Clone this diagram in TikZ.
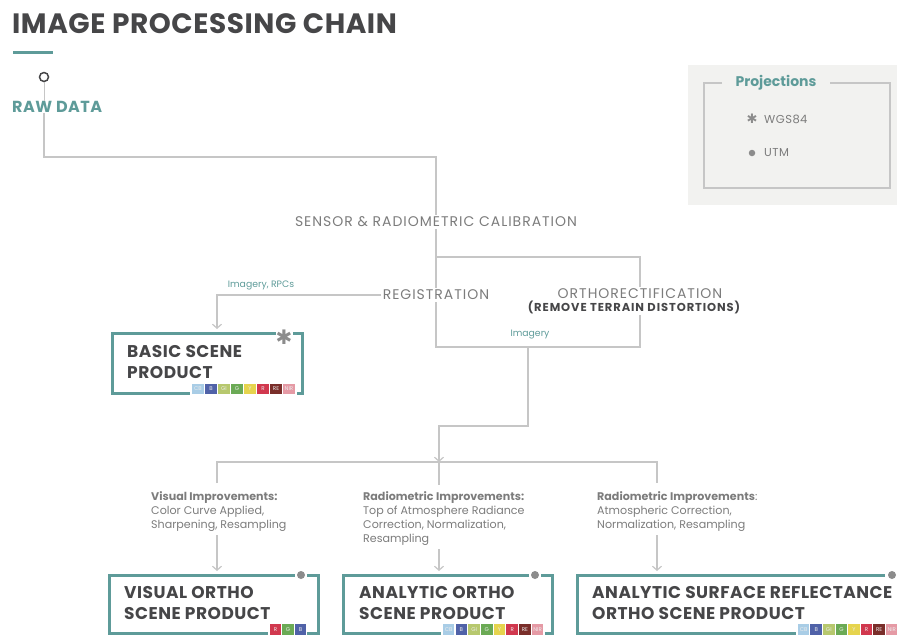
\documentclass[tikz,border=0pt]{standalone}
\usepackage{fontspec}
\setmainfont{Poppins}
\newfontfamily\symfont{DejaVu Sans}
\usetikzlibrary{arrows.meta}
\definecolor{tealc}{HTML}{5E9B99}
\definecolor{darkt}{HTML}{464648}
\definecolor{labelg}{HTML}{7C7C7C}
\definecolor{lineg}{HTML}{C6C6C6}
\definecolor{panelbg}{HTML}{F2F2F0}
\definecolor{dotg}{HTML}{8C8C8C}
\definecolor{cCB}{HTML}{A9CDE6}
\definecolor{cB}{HTML}{5062A8}
\definecolor{cGI}{HTML}{B7C86E}
\definecolor{cG}{HTML}{6BAA55}
\definecolor{cY}{HTML}{E6D44E}
\definecolor{cR}{HTML}{D1384E}
\definecolor{cRE}{HTML}{7A2E2A}
\definecolor{cNIR}{HTML}{E59AA5}
\newcommand{\fs}[1]{\fontsize{#1}{#1}\selectfont}
\newcommand{\ls}[1]{\addfontfeature{LetterSpace=#1}}
\begin{document}
\begin{tikzpicture}[x=1pt,y=-1pt,
  conn/.style={draw=lineg, line width=1.8pt},
  arr/.style={conn, -{Straight Barb[length=4pt,width=9pt,line width=1.2pt]}},
  boxline/.style={draw=tealc, line width=3pt},
  biglbl/.style={font=\fs{14}\ls{7}, text=labelg, inner sep=2pt},
  boxtxt/.style={font=\fontsize{17}{21}\selectfont\bfseries\ls{3}, text=darkt, align=left, inner sep=0pt, anchor=north west},
  smalltxt/.style={font=\fontsize{11.1}{14}\selectfont, text=labelg, align=left, inner sep=0pt, anchor=north west},
  tlbl/.style={font=\fs{9.3}, text=tealc, inner sep=1pt},
  chip/.style={minimum width=11.5pt, minimum height=10.5pt, inner sep=0pt, font=\fs{5.5}, text=white!85!gray},
  gdot/.style={circle, fill=dotg, inner sep=0pt, minimum size=8pt}
]
\useasboundingbox (0,0) rectangle (897,635);
% title
\node[anchor=west, font=\fs{28}\bfseries\ls{2}, text=darkt, inner sep=0pt] (title) at (12,24) {IMAGE PROCESSING CHAIN};
\draw[tealc, line width=3pt] (13,52) -- (53,52);
% start
\node[circle, draw=darkt, line width=1.5pt, minimum size=9pt, inner sep=0pt] (start) at (44,77) {};
\node[anchor=west, font=\fs{16}\bfseries\ls{3}, text=tealc, inner sep=0pt] (raw) at (12,107) {RAW DATA};
\draw[conn, line width=1pt] (start.south) -- (start.south |- raw.north);
% projections panel
\fill[panelbg] (688,65) rectangle (897,205);
\draw[draw=lineg, line width=1.5pt] (722,83) -- (704,83) -- (704,188) -- (890,188) -- (890,83) -- (830,83);
\node[font=\fs{14}\bfseries, text=tealc, inner sep=0pt] (proj) at (776,83) {Projections};
\node[font=\symfont\fs{13}, text=dotg, inner sep=0pt] (astk) at (752,119) {✱};
\node[anchor=west, font=\fs{11.5}\ls{4}, text=labelg, inner sep=0pt] (wgs) at (764,119) {WGS84};
\node[gdot, minimum size=6.5pt] (utmdot) at (752,153) {};
\node[anchor=west, font=\fs{11.5}\ls{4}, text=labelg, inner sep=0pt] (utm) at (764,153) {UTM};
% main chain
\node[biglbl] (sensor) at (436,222) {SENSOR \& RADIOMETRIC CALIBRATION};
\coordinate (c1) at (44,157);
\draw[conn] (raw.south -| start) -- (c1) -| (sensor.north);
\node[biglbl] (reg) at (436,295) {REGISTRATION};
\node[biglbl, align=center, inner sep=1pt] (ortho) at (640,301) {ORTHORECTIFICATION\\[-1pt]\hspace*{-12pt}{\fs{11.5}\bfseries\ls{8}\color{darkt}(REMOVE TERRAIN DISTORTIONS)}};
\draw[conn] (sensor.south) -- (reg.north);
\coordinate (j1) at (436,257);
\draw[conn] (j1) -| (ortho.north);
\coordinate (j2) at (436,347);
\draw[conn] (reg.south) -- (j2) -| (ortho.south);
\node[tlbl] (img) at (530,335) {Imagery};
% basic scene product
\node[minimum width=190pt, minimum height=60pt, inner sep=0pt] (basic) at (207,363) {};
\coordinate (bin) at (217,329);
\draw[arr] (reg.west) -| (bin);
\node[tlbl] (rpc) at (261,285) {Imagery, RPCs};
\draw[boxline] (276,333) -- (112,333) -- (112,393) -- (302,393) -- (302,333) -- (293,333);
\node[font=\symfont\fs{20}, text=dotg, inner sep=0pt] (bast) at (284,337) {✱};
\node[boxtxt] (basictxt) at (127,345) {BASIC SCENE\\PRODUCT};
\fill[white] (190,384) rectangle (297,395);
\foreach \c/\t [count=\i] in {cCB/CB,cB/B,cGI/GI,cG/G,cY/Y,cR/R,cRE/RE,cNIR/NIR}
  \node[chip, fill=\c] (bc\i) at ({185+\i*13},389) {\t};
% to improvements
\coordinate (j3) at (528,347);
\coordinate (j4) at (528,426);
\coordinate (hub) at (439,462);
\draw[arr] (j3) -- (j4) -| (hub);
\coordinate (hl) at (217,462);
\coordinate (hr) at (657,462);
\draw[conn] (217,483) -- (hl) -- (hr) -- (657,483);
\draw[conn] (hub) -- (439,485);
\node[smalltxt] (vis) at (151,491) {{\bfseries Visual Improvements:}\\Color Curve Applied,\\Sharpening, Resampling};
\node[smalltxt] (rad1) at (363,491) {{\bfseries Radiometric Improvements:}\\Top of Atmosphere Radiance\\Correction, Normalization,\\Resampling};
\node[smalltxt] (rad2) at (597,491) {{\bfseries Radiometric Improvements}:\\Atmospheric Correction,\\Normalization, Resampling};
% bottom boxes
\coordinate (a1) at (217,571);
\coordinate (a2) at (439,571);
\coordinate (a3) at (657,571);
\draw[arr] (vis.south -| a1) ++(0,4) -- (a1);
\draw[arr] (rad1.south -| a2) ++(0,4) -- (a2);
\draw[arr] (rad2.south -| a3) ++(0,4) -- (a3);
% visual ortho
\draw[boxline] (295,575) -- (109,575) -- (109,633) -- (318,633) -- (318,575) -- (307,575);
\node[gdot] (d1) at (301,575) {};
\node[boxtxt] (vistxt) at (124,586) {VISUAL ORTHO\\SCENE PRODUCT};
\fill[white] (268,624) rectangle (307,635);
\foreach \c/\t [count=\i] in {cR/R,cG/G,cB/B}
  \node[chip, fill=\c] (vc\i) at ({263+\i*12.5},629.5) {\t};
% analytic ortho
\draw[boxline] (529,575) -- (343,575) -- (343,633) -- (552,633) -- (552,575) -- (541,575);
\node[gdot] (d2) at (535,575) {};
\node[boxtxt] (antxt) at (359,586) {ANALYTIC ORTHO\\SCENE PRODUCT};
\fill[white] (441,624) rectangle (545,635);
\foreach \c/\t [count=\i] in {cCB/CB,cB/B,cGI/GI,cG/G,cY/Y,cR/R,cRE/RE,cNIR/NIR}
  \node[chip, fill=\c] (ac\i) at ({436+\i*12.7},629.5) {\t};
% analytic surface reflectance
\draw[boxline] (885,575) -- (577,575) -- (577,633) -- (897,633);
\node[gdot] (d3) at (892,575) {};
\node[boxtxt] (srtxt) at (592,586) {ANALYTIC SURFACE REFLECTANCE\\ORTHO SCENE PRODUCT};
\fill[white] (796,624) rectangle (897,635);
\foreach \c/\t [count=\i] in {cCB/CB,cB/B,cGI/GI,cG/G,cY/Y,cR/R,cRE/RE,cNIR/NIR}
  \node[chip, fill=\c] (sc\i) at ({791+\i*12.6},629.5) {\t};
\end{tikzpicture}
\end{document}
